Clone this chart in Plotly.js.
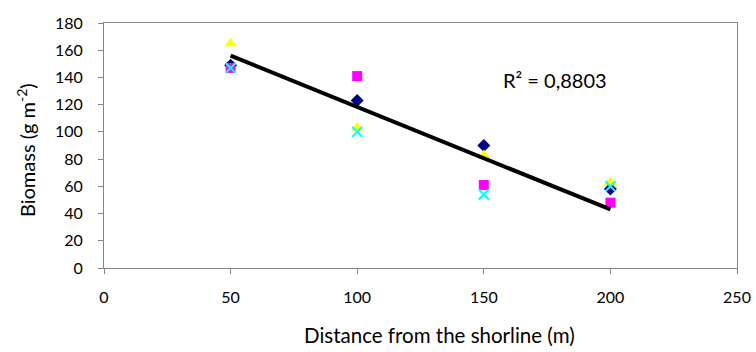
<!DOCTYPE html>
<html>
<head>
<meta charset="utf-8">
<script src="https://cdn.plot.ly/plotly-3.0.1.min.js"></script>
<style>html,body{margin:0;padding:0;background:#fff;}#chart{width:756px;height:352px;}</style>
</head>
<body>
<div id="chart"></div>
<script>
const distances = [50, 100, 150, 200];
const seriesDiamond = [149, 123, 90, 58];
const seriesSquare = [147, 141, 61, 48];
const seriesTriangle = [165, 103, 83, 63];
const seriesCross = [147, 100, 54, 60];
const trendX = [50, 200];
const trendY = [156, 43];
const r2Label = "R² = 0,8803";
const r2Pos = [178, 138];
const xTitle = 'Distance from the shorline (m)';
const yTitle = 'Biomass (g m<sup>-2</sup>)';

const mk = (y, symbol, color, size) => ({
  x: distances, y: y, type: 'scatter', mode: 'markers',
  marker: {symbol: symbol, color: color, size: size, line: {width: 0}},
  showlegend: false, hoverinfo: 'skip'
});

const traces = [
  mk(seriesDiamond, 'diamond', '#000080', 10),
  mk(seriesSquare, 'square', '#FF00FF', 10),
  mk(seriesTriangle, 'triangle-up', '#FFFF00', 11),
  mk(seriesCross, 'x-thin-open', '#00FFFF', 10),
  {x: trendX, y: trendY, type: 'scatter', mode: 'lines',
   line: {color: '#000000', width: 4}, showlegend: false, hoverinfo: 'skip'}
];
traces[3].marker.line = {color: '#00FFFF', width: 2};

const fam = 'Lato, "Open Sans", sans-serif';
const tickFont = {family: fam, size: 16, color: '#000'};

const layout = {
  width: 756, height: 352,
  margin: {l: 104, r: 19, t: 23, b: 84},
  paper_bgcolor: '#fff', plot_bgcolor: '#fff',
  font: tickFont,
  xaxis: {
    range: [0, 250], tickvals: [0, 50, 100, 150, 200, 250],
    showgrid: false, zeroline: false,
    showline: true, linecolor: '#868686', linewidth: 1, mirror: true,
    ticks: 'outside', ticklen: 5, tickcolor: '#868686',
    tickfont: tickFont, ticklabelstandoff: 10
  },
  yaxis: {
    range: [0, 180], tickvals: [0, 20, 40, 60, 80, 100, 120, 140, 160, 180],
    showgrid: false, zeroline: false,
    showline: true, linecolor: '#868686', linewidth: 1, mirror: true,
    ticks: 'outside', ticklen: 5, tickcolor: '#868686',
    tickfont: tickFont, ticklabelstandoff: 12
  },
  annotations: [
    {x: r2Pos[0], y: r2Pos[1], xref: 'x', yref: 'y',
     text: r2Label, showarrow: false, font: {family: fam, size: 20, color: '#000'}},
    {x: 0.5308, y: -0.2735, xref: 'paper', yref: 'paper', xanchor: 'center', yanchor: 'middle',
     text: xTitle, showarrow: false, font: {family: fam, size: 20.5, color: '#000'}},
    {x: -0.1232, y: 0.4816, xref: 'paper', yref: 'paper', xanchor: 'center', yanchor: 'middle',
     textangle: -90, text: yTitle, showarrow: false, font: {family: fam, size: 20, color: '#000'}}
  ]
};

Plotly.newPlot('chart', traces, layout, {staticPlot: true, displayModeBar: false});
</script>
</body>
</html>
